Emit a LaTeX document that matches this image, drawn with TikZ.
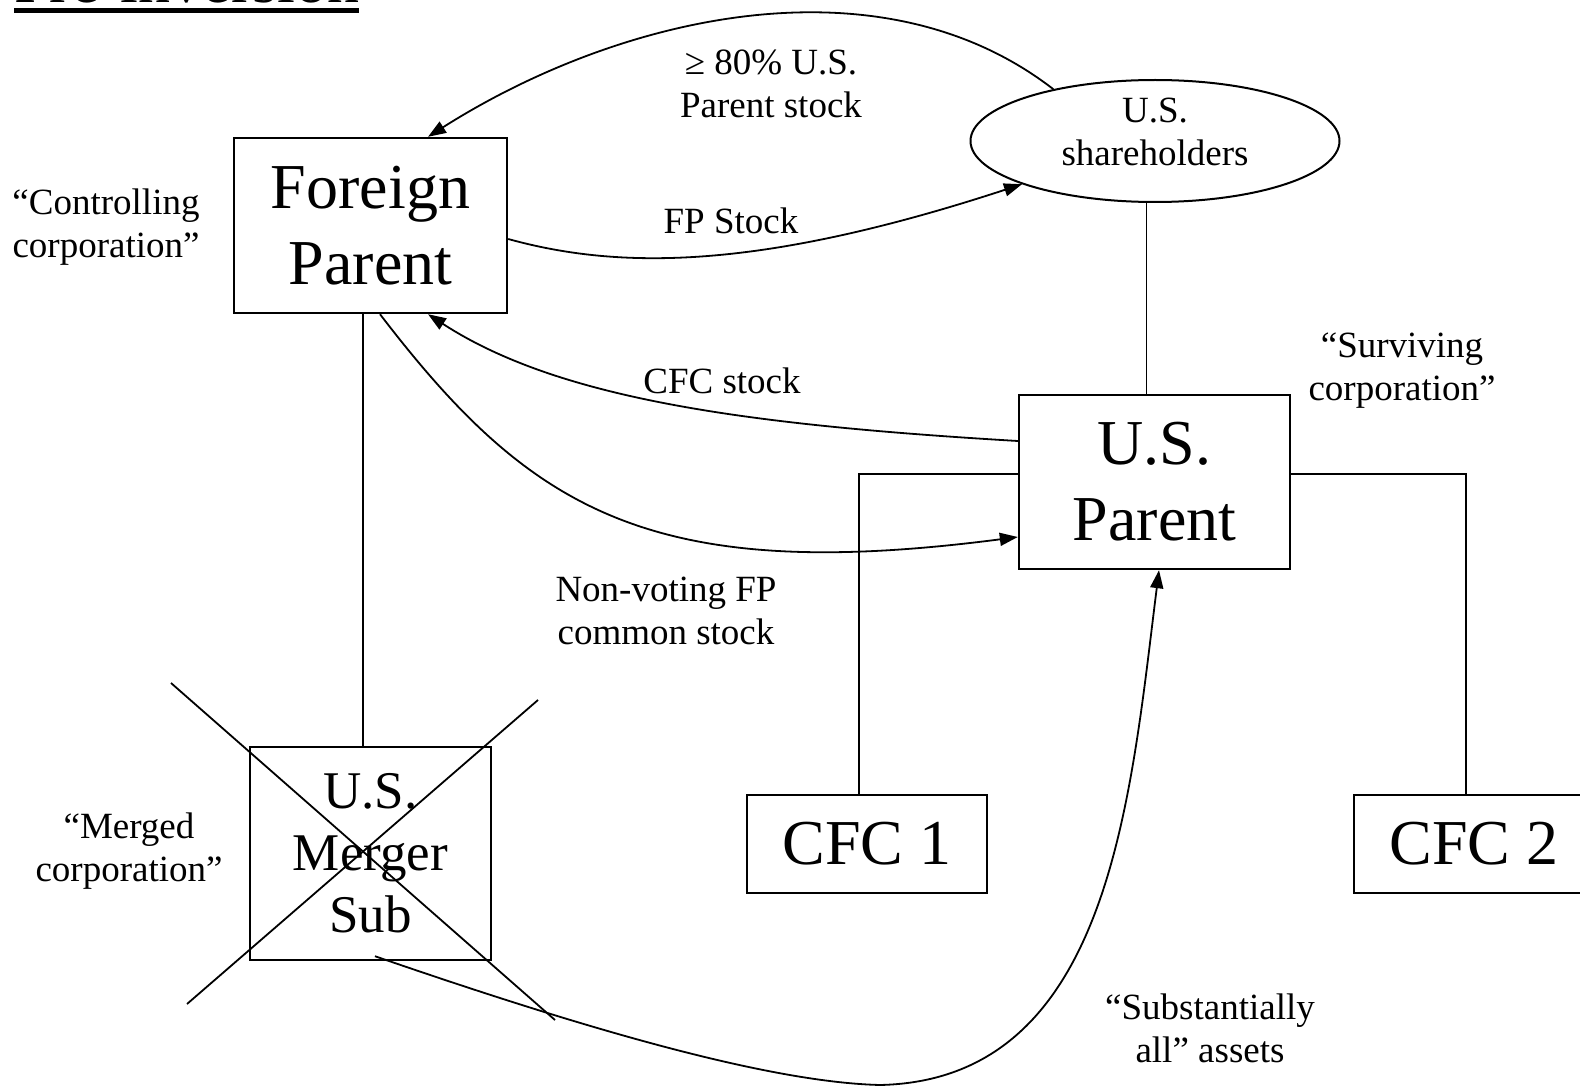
\documentclass[tikz,border=0pt]{standalone}
\usepackage{fontspec}
\setmainfont{Liberation Serif}
\usetikzlibrary{arrows.meta,shapes.geometric}
\begin{document}
\begin{tikzpicture}[x=1pt,y=-1pt,
  box/.style={draw,line width=2.4pt,rectangle,inner sep=0pt,align=center},
  big/.style={font=\fontsize{64}{76}\selectfont},
  mid/.style={font=\fontsize{53}{62}\selectfont},
  lbl/.style={inner sep=0pt,align=center,font=\fontsize{37}{43}\selectfont},
  conn/.style={line width=1.8pt},
  arr/.style={conn,-{Triangle[length=18pt,width=13pt]}}]
\useasboundingbox (0,0) rectangle (1580,1086);
\clip (0,0) rectangle (1580,1086);

% title (cut off at the top)
\node[inner sep=0pt,anchor=base west,font=\fontsize{64}{76}\selectfont] (title) at (14,3) {Pre-inversion};
\draw[line width=4.4pt] ([yshift=-7.5pt]title.base west) -- ([yshift=-7.5pt]title.base east);

% boxes
\node[box,big,minimum width=273pt,minimum height=175pt] (fp) at (370.5,225.5) {Foreign\\Parent};
\node[box,big,minimum width=271pt,minimum height=174pt] (usp) at (1154.5,482) {U.S.\\Parent};
\node[box,mid,minimum width=241pt,minimum height=213pt] (ms) at (370.5,853.5) {U.S.\\Merger\\Sub};
\node[box,big,minimum width=240pt,minimum height=98pt] (c1) at (867,844) {CFC 1};
\node[box,big,minimum width=240pt,minimum height=98pt] (c2) at (1474,844) {CFC 2};
\node[draw,ellipse,line width=2pt,lbl,minimum width=369pt,minimum height=122pt,text depth=18pt] (sh) at (1155,141) {U.S.\\shareholders};

% cross-out of merger sub
\draw[conn] (171,683) -- (555,1020);
\draw[conn] (538,700) -- (187,1004);

% ownership lines
\draw[conn] ([xshift=-7.5pt]fp.south) -- ([xshift=-7.5pt]ms.north);
\draw[conn] ([xshift=-8pt]usp.north) -- ([xshift=-8pt]usp.north |- sh.south);
\draw[conn] ([yshift=8pt]usp.west) -| ([xshift=-8pt]c1.north);
\draw[conn] ([yshift=8pt]usp.east) -| ([xshift=-8pt]c2.north);

% transfers
\draw[arr] (sh.153) .. controls (880,-45) and (620,15) .. ([xshift=57.5pt]fp.north);
\draw[arr] ([yshift=-13.5pt]fp.east) .. controls (620,270) and (760,270) .. (sh.198);
\draw[arr] ([yshift=41pt]usp.west) .. controls (750,425) and (560,400) .. ([xshift=57.5pt]fp.south);
\draw[arr] ([xshift=9.5pt]fp.south) .. controls (530,510) and (650,585) .. ([yshift=-55pt]usp.west);
\draw[arr] ([xshift=4.5pt,yshift=5pt]ms.south) .. controls (560,1020) and (760,1082) .. (880,1085)
   .. controls (1110,1080) and (1130,800) .. ([xshift=4.5pt]usp.south);

% labels
\node[lbl] (l80) at (771,84) {≥ 80\% U.S.\\Parent stock};
\node[lbl] (lfp) at (731,221) {FP Stock};
\node[lbl] (lcfc) at (722,381) {CFC stock};
\node[lbl] (lnv) at (666,611) {Non-voting FP\\common stock};
\node[lbl] (lsub) at (1210,1028) {“Substantially\\all” assets};
\node[lbl] (lctl) at (106,227) {“Controlling\\corporation”};
\node[lbl] (lsur) at (1402,371) {“Surviving\\corporation”};
\node[lbl] (lmer) at (129,851) {“Merged\\corporation”};
\end{tikzpicture}
\end{document}
